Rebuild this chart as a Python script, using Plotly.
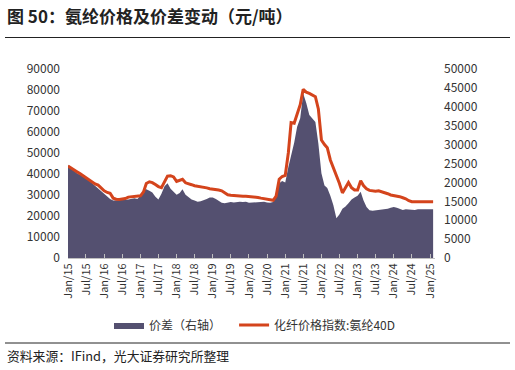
import pandas as pd
import plotly.graph_objects as go

# Monthly observations, Jan 2015 .. Feb 2025
months = pd.date_range("2015-01-01", periods=122, freq="MS")

# 化纤价格指数:氨纶40D (元/吨, left axis)
price_40d = [
    43800, 43000, 42200, 41100, 40200, 39200, 38200, 37200, 36200, 35300, 34700, 33400,  # 2015
    32000, 31200, 30800, 28500, 28000, 27900, 28000, 28300, 29000, 29200, 29300, 29500,  # 2016
    29600, 31500, 35500, 36300, 35900, 35000, 34000, 33500, 36300, 39000, 39200, 38600,  # 2017
    36500, 37000, 37500, 35800, 35200, 34900, 34400, 34200, 33900, 33600, 33400, 33000,  # 2018
    32900, 32600, 32400, 32000, 31000, 30100, 29900, 29700, 29500, 29500, 29400, 29400,  # 2019
    29300, 29200, 29000, 28800, 28500, 28200, 27900, 27700, 27500, 29500, 37500, 38800,  # 2020
    39300, 50000, 64500, 64200, 68500, 73000, 80300, 79000, 78400, 77500, 76800, 71000,  # 2021
    56200, 54000, 52500, 46700, 43000, 40000, 35600, 31000, 33500, 36000, 33500, 32400,  # 2022
    32400, 36800, 34500, 33000, 32200, 32000, 31800, 32000, 31600, 31200, 30600, 30000,  # 2023
    29800, 29500, 29200, 28700, 28200, 27300, 26800, 26800, 26800, 26800, 26800, 26800,  # 2024
    26800, 26800,                                                                        # 2025
]

# 价差 (元/吨, right axis)
spread = [
    24600, 23800, 23000, 22400, 22000, 21800, 21500, 20500, 19800, 18900, 18200, 17500,  # 2015
    16900, 16300, 15600, 15200, 15200, 15300, 15500, 15400, 15500, 15700, 15800, 15600,  # 2016
    16500, 18000, 18200, 17800, 17300, 16200, 15500, 17000, 19000, 19800, 18300, 17500,  # 2017
    16700, 17200, 18200, 16700, 16000, 15500, 15200, 14900, 15000, 15200, 15600, 16000,  # 2018
    16000, 15600, 15200, 14600, 14500, 14700, 14800, 14700, 14900, 14900, 14800, 14900,  # 2019
    14600, 14700, 14800, 14800, 14900, 14900, 14700, 14600, 14800, 17000, 19800, 20400,  # 2020
    20000, 24000, 26800, 30500, 34700, 37000, 43500, 41000, 37800, 37000, 36000, 30300,  # 2021
    22400, 19200, 18500, 16500, 14000, 10500, 11500, 13000, 13600, 14500, 15500, 16000,  # 2022
    16500, 17500, 15300, 13500, 12600, 12500, 12600, 12700, 12700, 12800, 13000, 13300,  # 2023
    13500, 13300, 13100, 12700, 12900, 12800, 12900, 12700, 12900, 12900, 12800, 12900,  # 2024
    12900, 12900,                                                                        # 2025
]

tick_dates = pd.date_range("2015-01-01", "2025-01-01", freq="6MS")
tick_text = [d.strftime("%b/%y") for d in tick_dates]

FONT = "Noto Sans CJK SC"
W, H = 515, 370
# plot area in window pixels: x 68..435, y 69..258
ML, MR, MT, MB = 68, 515 - 435, 69, 370 - 258
PW, PH = W - ML - MR, H - MT - MB


def px(x):
    return (x - ML) / PW


def py(y):
    return (H - MB - y) / PH


fig = go.Figure()
fig.add_trace(go.Scatter(
    x=months, y=spread, name="价差（右轴）\u00a0\u00a0\u00a0", mode="lines",
    line=dict(width=0, color="#545070"), fill="tozeroy", fillcolor="#545070",
    yaxis="y",
))
fig.add_trace(go.Scatter(
    x=months, y=price_40d, name="化纤价格指数:氨纶40D", mode="lines",
    line=dict(width=3, color="#D4441C"), yaxis="y2",
))

fig.update_layout(
    width=W, height=H,
    margin=dict(l=ML, r=MR, t=MT, b=MB),
    paper_bgcolor="white", plot_bgcolor="white",
    font=dict(family=FONT, size=12, color="#333333"),
    showlegend=True,
    legend=dict(orientation="h", x=px(109), y=py(325), xanchor="left", yanchor="middle",
                font=dict(size=12, color="#333333"), bgcolor="rgba(0,0,0,0)"),
    xaxis=dict(
        type="date", range=["2015-01-01", "2025-02-20"],
        tickvals=list(tick_dates), ticktext=tick_text, tickangle=-90,
        tickfont=dict(size=11, color="#333333"),
        showgrid=False, showline=True, linecolor="#BFBFBF", linewidth=1,
        ticks="inside", ticklen=4, tickcolor="#BFBFBF", zeroline=False,
    ),
    yaxis=dict(
        side="right", range=[0, 50000], dtick=5000, showgrid=False, zeroline=False,
        showline=False, ticks="", tickfont=dict(size=12, color="#333333"),
        tickformat="d", ticklabelstandoff=8,
    ),
    yaxis2=dict(
        side="left", overlaying="y", range=[0, 90000], dtick=10000, showgrid=False,
        zeroline=False, showline=False, ticks="", tickfont=dict(size=12, color="#333333"),
        tickformat="d", ticklabelstandoff=7,
    ),
    shapes=[
        dict(type="line", xref="paper", yref="paper", x0=px(5), x1=px(510),
             y0=py(37.5), y1=py(37.5), line=dict(color="#222222", width=1)),
        dict(type="line", xref="paper", yref="paper", x0=px(5), x1=px(510),
             y0=py(343), y1=py(343), line=dict(color="#222222", width=1)),
    ],
    annotations=[
        dict(text="<b>图 50：氨纶价格及价差变动（元/吨）</b>", xref="paper", yref="paper",
             x=px(5), y=py(16), xanchor="left", yanchor="middle", showarrow=False,
             font=dict(size=17, color="#222222", family=FONT)),
        dict(text="资料来源：IFind，光大证券研究所整理", xref="paper", yref="paper",
             x=px(5), y=py(355), xanchor="left", yanchor="middle", showarrow=False,
             font=dict(size=12.8, color="#222222", family=FONT)),
    ],
)

fig.write_html("out.html", config={"displayModeBar": False},
               post_script="document.body.style.margin='0';")
